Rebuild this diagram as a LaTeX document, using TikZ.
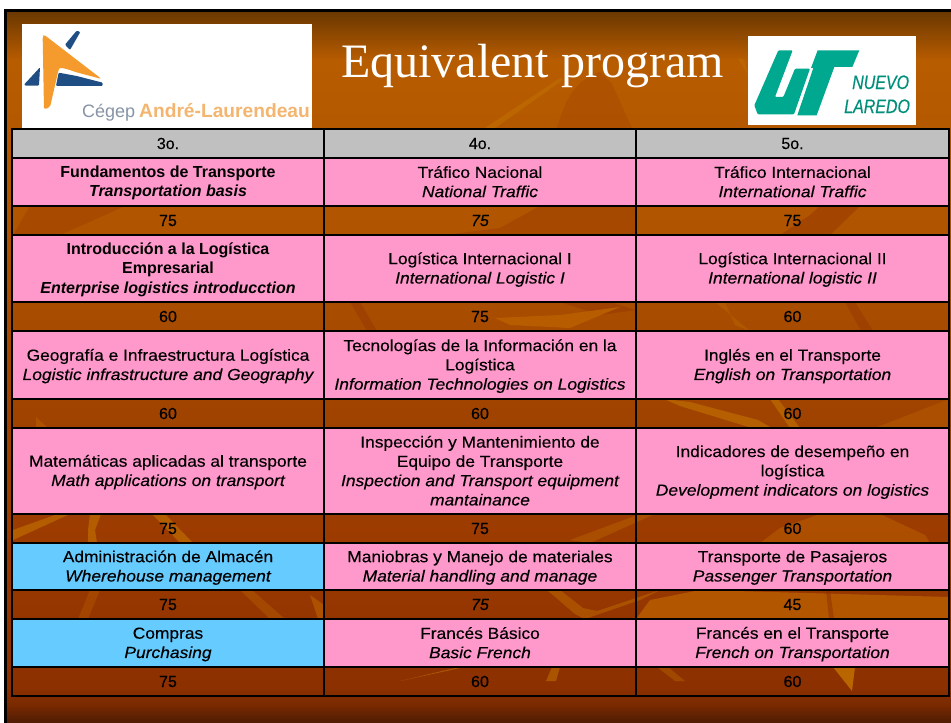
\documentclass[tikz,border=0pt]{standalone}
\usepackage{fontspec}
\setmainfont{Liberation Sans}
\newfontfamily\regf[FakeStretch=1.085,FakeBold=0.25]{Liberation Sans}
\newfontfamily\itf[FakeStretch=1.09,FakeBold=0.25]{Liberation Sans Italic}
\newfontfamily\numf[FakeBold=0.25]{Liberation Sans}
\newfontfamily\numif[FakeBold=0.25]{Liberation Sans Italic}
\newfontfamily\condit[FakeStretch=.82,FakeBold=0.4]{Liberation Sans Italic}
\newfontfamily\titlef{Liberation Serif}
\definecolor{cellpink}{HTML}{FF99CC}
\definecolor{cellblue}{HTML}{66CCFF}
\definecolor{headgray}{HTML}{C0C0C0}
\definecolor{utteal}{HTML}{00A88F}
\definecolor{cegorange}{HTML}{F59B2D}
\definecolor{cegblue}{HTML}{1F4E84}
\definecolor{streak}{HTML}{BE6C00}
\definecolor{lightp}{HTML}{B85C00}
\definecolor{darkp}{HTML}{8F2F00}
\definecolor{c0}{HTML}{4E1C05}
\definecolor{c1}{HTML}{7A2A00}
\definecolor{c2}{HTML}{8C3000}
\definecolor{c3}{HTML}{9C3A00}
\definecolor{c4}{HTML}{A04400}
\definecolor{c5}{HTML}{B05400}
\definecolor{c6}{HTML}{B85C00}
\definecolor{c7}{HTML}{6B3800}
\pgfdeclareverticalshading{slidebgtwo}{100bp}{
 color(0bp)=(c0);
 color(25bp)=(c0);
 color(26.3bp)=(c1);
 color(27.5bp)=(c2);
 color(37.2bp)=(c3);
 color(47.7bp)=(c4);
 color(59.7bp)=(c5);
 color(71.6bp)=(c6);
 color(75bp)=(c7);
 color(100bp)=(c7)}
\newcommand\cstrut{\rule[-3pt]{0pt}{17pt}}
\newcommand\tbd[1]{{\cstrut\bfseries #1}}
\newcommand\tbit[1]{{\cstrut\bfseries\itshape #1}}
\newcommand\trg[1]{{\cstrut\regf #1}}
\newcommand\tit[1]{{\cstrut\itf #1}}
\newcommand\nmb[1]{{\cstrut\numf #1}}
\newcommand\nmi[1]{{\cstrut\numif #1}}
\newcommand\TRow[9]{%
 \pgfmathsetmacro\cy{(#2+#3)/2}%
 \node[#4,minimum width=312pt,minimum height=#3pt-#2pt] (#1a) at (168,\cy) {#5};
 \node[#6,minimum width=312pt,minimum height=#3pt-#2pt] (#1b) at (480,\cy) {#7};
 \node[#8,minimum width=313pt,minimum height=#3pt-#2pt] (#1c) at (792.5,\cy) {#9};
}
\tikzset{
 cell/.style={draw=black,line width=1.5pt,inner sep=0pt,align=center,text=black,
   font=\fontsize{16}{19.3}\selectfont},
 pink/.style={cell,fill=cellpink},
 blue/.style={cell,fill=cellblue},
 head/.style={cell,fill=headgray},
 num/.style={cell},
 logobox/.style={fill=white,draw=none}
}
\begin{document}
\begin{tikzpicture}[x=1pt,y=-1pt]
\useasboundingbox (0,0) rectangle (951,723);
\fill[white] (0,0) rectangle (951,723);
\fill[black] (4,9) rectangle (951,723);
\shade[shading=slidebgtwo] (7,12) rectangle (951,723);
% background texture
\fill[darkp,opacity=.2] (557,128) .. controls (565,100) and (575,80) .. (600,72) -- (612,84) -- (632,128) -- cycle;
\fill[streak,opacity=.7] (485,128) -- (560,78) -- (563,80) -- (495,128) -- cycle;
\fill[streak,opacity=.6] (738,58) -- (744,60) -- (748,75) -- cycle;
\fill[darkp,opacity=.25] (13,235) -- (30,206) -- (125,206) -- (85,224) -- (60,235) -- cycle;
\fill[darkp,opacity=.3] (445,235) -- (500,228) -- (540,206) -- (636,206) -- (636,235) -- cycle;
\fill[darkp,opacity=.4] (780,235) -- (810,215) -- (820,206) -- (860,206) -- (830,235) -- cycle;
\fill[darkp,opacity=.35] (350,302) -- (360,302) -- (377,331) -- (367,331) -- cycle;
\fill[darkp,opacity=.35] (560,302) -- (610,302) -- (636,310) -- (600,315) -- cycle;
\fill[lightp] (495,318) -- (560,315) -- (620,307) -- (570,328) -- (510,325) -- cycle;
\fill[darkp,opacity=.35] (845,302) -- (855,302) -- (873,331) -- (861,331) -- cycle;
\fill[streak,opacity=.4] (725,302) -- (735,325) -- (750,331) -- (715,302) -- cycle;
\fill[streak,opacity=.7] (664,399) -- (690,402) -- (758,420) -- (772,428) -- (752,428) -- (680,406) -- cycle;
\fill[streak,opacity=.7] (770,399) -- (778,399) -- (800,428) -- (790,428) -- cycle;
\fill[lightp,opacity=.5] (875,428) -- (949,399) -- (949,428) -- cycle;
\fill[lightp,opacity=.6] (36,417) -- (48,428) -- (36,428) -- cycle;
\fill[streak,opacity=.7] (13,530) -- (55,515) -- (70,514) -- (13,540) -- cycle;
\fill[streak,opacity=.7] (90,514) -- (101,514) -- (95,530) -- (97,543) -- (88,543) -- (88,530) -- cycle;
\fill[streak,opacity=.7] (152,514) -- (165,514) -- (193,543) -- (180,543) -- cycle;
\fill[streak,opacity=.4] (570,540) -- (640,514) -- (655,514) -- (590,543) -- cycle;
\fill[lightp,opacity=.6] (760,543) -- (780,528) -- (820,514) -- (880,514) -- (925,535) -- (930,543) -- cycle;
\fill[lightp,opacity=.4] (78,619) -- (90,590) -- (100,590) -- (88,619) -- cycle;
\fill[streak,opacity=.35] (240,590) -- (252,590) -- (285,619) -- (270,619) -- cycle;
\fill[lightp,opacity=.7] (310,595) -- (324,605) -- (324,619) -- (318,619) -- cycle;
\fill[streak,opacity=.5] (547,590) -- (560,590) -- (583,608) -- (597,611) -- (660,590) -- (640,600) -- (585,619) -- (575,614) -- cycle;
\fill[lightp,opacity=.85] (636,619) -- (650,600) -- (700,590) -- (949,597) -- (949,619) -- cycle;
\fill[darkp,opacity=.5] (826,590) -- (830,590) -- (834,619) -- (829,619) -- cycle;
\fill[streak,opacity=.7] (400,681) -- (455,668) -- (460,668) -- cycle;
\fill[streak,opacity=.6] (546,681) -- (552,667) -- (560,667) -- (556,681) -- cycle;
\fill[streak,opacity=.4] (657,667) -- (668,667) -- (685,681) -- (675,681) -- cycle;
\fill[streak,opacity=.9] (833,667) -- (855,667) -- (852,691) -- cycle;
% title
\node[anchor=base west,inner sep=0pt,text=white,font=\titlef\fontsize{48}{48}\selectfont] (title) at (341,77) {Equivalent program};
% Cégep logo
\fill[logobox] (22,24) rectangle (312,128);
\node[anchor=base west,inner sep=0pt,font=\fontsize{18}{18}\selectfont] (cegep) at (82,117) {\textcolor[HTML]{8794A6}{Cégep}};
\node[anchor=base west,inner sep=0pt,font=\bfseries\fontsize{19.2}{19.2}\selectfont] (andre) at (139,117) {\textcolor[HTML]{F3B56F}{André-Laurendeau}};
\begin{scope}[shift={(20,24)},x=.3333pt,y=-.3333pt]
 \fill[cegblue,rounded corners=1pt] (135,62) -- (170,20) -- (181,24) -- (150,78) -- cycle;
 \fill[cegblue,rounded corners=1pt] (12,182) -- (60,130) -- (57,185) -- (16,185) -- cycle;
 \fill[cegblue,rounded corners=1pt] (108,186) -- (116,146) -- (170,156) -- (248,176) -- (248,186) -- cycle;
 \fill[cegorange,rounded corners=2pt] (68,38) -- (72,32) -- (245,165) -- (170,145) .. controls (140,135) and (120,128) .. (115,140) -- (90,250) -- (72,256) -- cycle;
\end{scope}
% UT logo
\fill[logobox] (748,36) rectangle (916,125);
\begin{scope}[shift={(745,32)},x=.3333pt,y=-.3333pt]
 \fill[utteal,rounded corners=1pt] (100,55) -- (143,55) -- (90,195) -- (115,195) -- (150,110) -- (195,110) -- (147,247) -- (38,247) -- (28,220) -- cycle;
 \fill[utteal] (218,55) -- (343,55) -- (322,105) -- (268,105) -- (215,250) -- (157,250) -- (205,108) -- (198,108) -- cycle;
\end{scope}
\node[anchor=base west,inner sep=0pt,text=utteal!85!black,font=\condit\fontsize{19.5}{19.5}\selectfont] (nuevo) at (852,89) {NUEVO};
\node[anchor=base west,inner sep=0pt,text=utteal!85!black,font=\condit\fontsize{19.5}{19.5}\selectfont] (laredo) at (844,113) {LAREDO};
% table
\TRow{h}{129}{158}{head}{\nmb{3o.}}{head}{\nmb{4o.}}{head}{\nmb{5o.}}
\TRow{a}{158}{206}{pink}{\tbd{Fundamentos de Transporte}\\\tbit{Transportation basis}}{pink}{\trg{Tráfico Nacional}\\\tit{National Traffic}}{pink}{\trg{Tráfico Internacional}\\\tit{International Traffic}}
\TRow{an}{206}{235}{num}{\nmb{75}}{num}{\nmi{75}}{num}{\nmb{75}}
\TRow{b}{235}{302}{pink}{\tbd{Introducción a la Logística}\\\tbd{Empresarial}\\\tbit{Enterprise logistics introducction}}{pink}{\trg{Logística Internacional I}\\\tit{International Logistic I}}{pink}{\trg{Logística Internacional II}\\\tit{International logistic II}}
\TRow{bn}{302}{331}{num}{\nmb{60}}{num}{\nmb{75}}{num}{\nmb{60}}
\TRow{c}{331}{399}{pink}{\trg{Geografía e Infraestructura Logística}\\\tit{Logistic infrastructure and Geography}}{pink}{\trg{Tecnologías de la Información en la}\\\trg{Logística}\\\tit{Information Technologies on Logistics}}{pink}{\trg{Inglés en el Transporte}\\\tit{English on Transportation}}
\TRow{cn}{399}{428}{num}{\nmb{60}}{num}{\nmb{60}}{num}{\nmb{60}}
\TRow{d}{428}{514}{pink}{\trg{Matemáticas aplicadas al transporte}\\\tit{Math applications on transport}}{pink}{\trg{Inspección y Mantenimiento de}\\\trg{Equipo de Transporte}\\\tit{Inspection and Transport equipment}\\\tit{mantainance}}{pink}{\trg{Indicadores de desempeño en}\\\trg{logística}\\\tit{Development indicators on logistics}}
\TRow{dn}{514}{543}{num}{\nmb{75}}{num}{\nmb{75}}{num}{\nmb{60}}
\TRow{e}{543}{590}{blue}{\trg{Administración de Almacén}\\\tit{Wherehouse management}}{pink}{\trg{Maniobras y Manejo de materiales}\\\tit{Material handling and manage}}{pink}{\trg{Transporte de Pasajeros}\\\tit{Passenger Transportation}}
\TRow{en}{590}{619}{num}{\nmb{75}}{num}{\nmi{75}}{num}{\nmb{45}}
\TRow{f}{619}{667}{blue}{\trg{Compras}\\\tit{Purchasing}}{pink}{\trg{Francés Básico}\\\tit{Basic French}}{pink}{\trg{Francés en el Transporte}\\\tit{French on Transportation}}
\TRow{fn}{667}{696}{num}{\nmb{75}}{num}{\nmb{60}}{num}{\nmb{60}}
\end{tikzpicture}
\end{document}
